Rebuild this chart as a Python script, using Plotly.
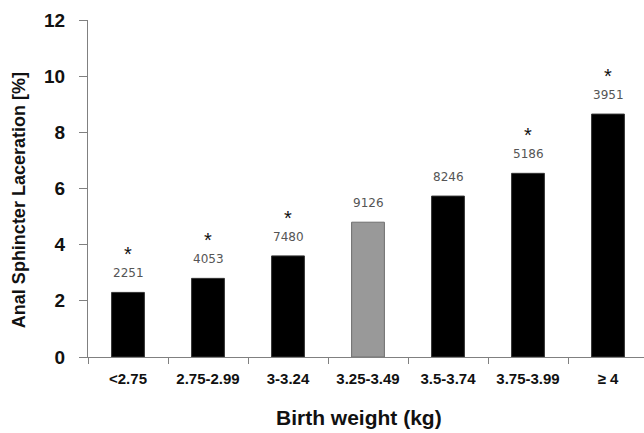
import plotly.graph_objects as go

# Anal sphincter laceration rate by birth-weight group
categories = ["<2.75", "2.75-2.99", "3-3.24", "3.25-3.49", "3.5-3.74", "3.75-3.99", "≥ 4"]
rates = [2.3, 2.8, 3.6, 4.8, 5.73, 6.54, 8.65]
counts = ["2251", "4053", "7480", "9126", "8246", "5186", "3951"]
significant = [True, True, True, False, False, True, True]
reference_group = "3.25-3.49"
y_ticks = [0, 2, 4, 6, 8, 10, 12]

bar_colors = ["#999999" if c == reference_group else "#000000" for c in categories]
line_colors = ["#6e6e6e" if c == reference_group else "#333333" for c in categories]

fig = go.Figure()
fig.add_trace(go.Bar(
    x=categories,
    y=rates,
    width=0.41,
    marker=dict(color=bar_colors, line=dict(color=line_colors, width=1)),
    hoverinfo="skip",
))

# number of deliveries above each bar
for cat, val, n in zip(categories, rates, counts):
    fig.add_annotation(
        x=cat, y=val, text=n, showarrow=False,
        xref="x", yref="y", yanchor="middle", yshift=19,
        font=dict(family="DejaVu Sans", size=12, color="#555555"),
    )

# significance markers
for cat, val, sig in zip(categories, rates, significant):
    if sig:
        fig.add_annotation(
            x=cat, y=val, text="*", showarrow=False,
            xref="x", yref="y", yanchor="middle", yshift=38,
            font=dict(family="Arial", size=20, color="#111111"),
        )

fig.add_annotation(
    text="<b>Anal Sphincter Laceration [%]</b>", textangle=-90,
    xref="paper", yref="paper", x=-0.125, y=0.464, xanchor="center", yanchor="middle",
    showarrow=False, font=dict(family="Arial", size=18, color="#111111"),
)
fig.add_annotation(
    text="<b>Birth weight (kg)</b>",
    xref="paper", yref="paper", x=0.487, y=-0.181, xanchor="center", yanchor="middle",
    showarrow=False, font=dict(family="Arial", size=21, color="#111111"),
)

fig.update_layout(
    width=644, height=433,
    margin=dict(l=88, r=0, t=20, b=76),
    paper_bgcolor="white", plot_bgcolor="white",
    showlegend=False,
    xaxis=dict(
        range=[-0.5, 6.45],
        tickvals=categories, ticktext=[f"<b>{c}</b>" for c in categories],
        showline=True, linecolor="#808080", linewidth=1,
        ticks="outside", tickcolor="#808080", ticklen=6, tickson="boundaries",
        tickfont=dict(family="Arial", size=15, color="#111111"),
        ticklabelstandoff=8,
        showgrid=False, zeroline=False, fixedrange=True,
    ),
    yaxis=dict(
        range=[0, 12], tickvals=y_ticks, ticktext=[f"<b>{t}</b>" for t in y_ticks],
        showline=True, linecolor="#808080", linewidth=1,
        ticks="outside", tickcolor="#808080", ticklen=8,
        tickfont=dict(family="Arial", size=19, color="#111111"),
        ticklabelstandoff=10,
        showgrid=False, zeroline=False, fixedrange=True,
    ),
)

fig.write_html("out.html")
